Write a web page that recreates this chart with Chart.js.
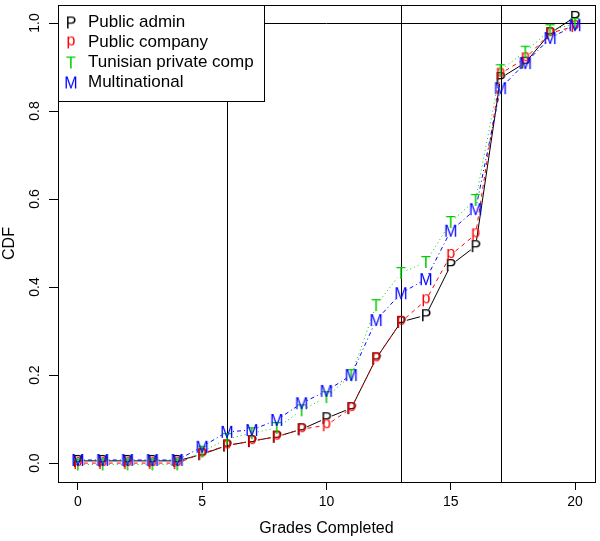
<!DOCTYPE html>
<html>
<head>
<meta charset="utf-8">
<script src="https://cdn.jsdelivr.net/npm/chart.js@4.4.1/dist/chart.umd.min.js"></script>
<style>
  html, body { margin: 0; padding: 0; background: #fff; }
  #cdf { display: block; }
</style>
</head>
<body>
<canvas id="cdf" width="600" height="541"></canvas>
<script>
const grades = [0, 1, 2, 3, 4, 5, 6, 7, 8, 9, 10, 11, 12, 13, 14, 15, 16, 17, 18, 19, 20];

const publicAdmin   = [0.005, 0.005, 0.005, 0.005, 0.005, 0.020, 0.040, 0.050, 0.060, 0.077, 0.102, 0.125, 0.238, 0.321, 0.336, 0.450, 0.493, 0.875, 0.910, 0.977, 1.014];
const publicCompany = [0.000, 0.000, 0.000, 0.000, 0.000, 0.022, 0.040, 0.050, 0.060, 0.077, 0.086, 0.125, 0.238, 0.321, 0.370, 0.473, 0.520, 0.885, 0.920, 0.977, 0.993];
const tunisianPriv  = [-0.003, -0.003, -0.003, -0.003, -0.003, 0.026, 0.055, 0.068, 0.080, 0.120, 0.150, 0.200, 0.359, 0.432, 0.457, 0.548, 0.598, 0.893, 0.935, 0.984, 0.998];
const multinational = [0.007, 0.007, 0.007, 0.007, 0.007, 0.037, 0.071, 0.075, 0.098, 0.136, 0.164, 0.200, 0.325, 0.386, 0.418, 0.528, 0.577, 0.852, 0.909, 0.966, 0.995];

const seriesNames = ['Public admin', 'Public company', 'Tunisian private comp', 'Multinational'];
const seriesChars = ['P', 'p', 'T', 'M'];
const seriesColors = ['#000000', '#ff0000', '#00cd00', '#0000ff'];

const xTicks = [0, 5, 10, 15, 20];
const yTicks = [0, 0.2, 0.4, 0.6, 0.8, 1.0];
const vLines = [6, 13, 17];
const hLines = [1.0];

const FONT = '"Liberation Sans", Arial, Helvetica, sans-serif';

// letter used as a plotting symbol, glyph box centred on the point
function letterMarker(ch, color) {
    const c = document.createElement('canvas');
    c.width = 16;
    c.height = 20;
    const g = c.getContext('2d');
    g.font = '16px ' + FONT;
    g.fillStyle = color;
    g.textAlign = 'center';
    g.textBaseline = 'alphabetic';
    const m = g.measureText(ch);
    g.fillText(ch, 8, 10 + (m.actualBoundingBoxAscent - m.actualBoundingBoxDescent) / 2);
    return c;
}

const markers = seriesChars.map((ch, i) => letterMarker(ch, seriesColors[i]));
const dashes = [[], [4, 4], [1, 3], [1, 3, 4, 3]];

function toPoints(vals) {
    return grades.map((g, i) => ({ x: g, y: vals[i] }));
}

const allValues = [publicAdmin, publicCompany, tunisianPriv, multinational];

// lines drawn R "type=b" style: segments stop short of each symbol
const gappedLines = {
    id: 'gappedLines',
    beforeDatasetsDraw(chart) {
        const ctx = chart.ctx;
        const gap = 6;
        chart.data.datasets.forEach((ds, i) => {
            const pts = chart.getDatasetMeta(i).data;
            ctx.save();
            ctx.strokeStyle = ds.borderColor;
            ctx.lineWidth = 1;
            ctx.setLineDash(dashes[i]);
            for (let k = 0; k < pts.length - 1; k++) {
                const a = pts[k], b = pts[k + 1];
                const dx = b.x - a.x, dy = b.y - a.y;
                const len = Math.hypot(dx, dy);
                if (len <= 2 * gap) continue;
                const ux = dx / len, uy = dy / len;
                ctx.beginPath();
                ctx.moveTo(a.x + ux * gap, a.y + uy * gap);
                ctx.lineTo(b.x - ux * gap, b.y - uy * gap);
                ctx.stroke();
            }
            ctx.restore();
        });
    }
};

const frameAndRefs = {
    id: 'frameAndRefs',
    beforeDatasetsDraw(chart) {
        const { ctx, chartArea: a, scales: { x, y } } = chart;
        ctx.save();
        ctx.strokeStyle = '#000';
        ctx.lineWidth = 1;
        vLines.forEach(v => {
            const px = Math.round(x.getPixelForValue(v)) + 0.5;
            ctx.beginPath();
            ctx.moveTo(px, a.top);
            ctx.lineTo(px, a.bottom);
            ctx.stroke();
        });
        hLines.forEach(v => {
            const py = Math.round(y.getPixelForValue(v)) + 0.5;
            ctx.beginPath();
            ctx.moveTo(a.left, py);
            ctx.lineTo(a.right, py);
            ctx.stroke();
        });
        ctx.restore();
    },
    afterDraw(chart) {
        const { ctx, chartArea: a, scales: { y } } = chart;
        ctx.save();
        // y tick labels, rotated like R's default
        ctx.fillStyle = '#000';
        ctx.font = '14px ' + FONT;
        ctx.textAlign = 'center';
        ctx.textBaseline = 'middle';
        y.ticks.forEach(t => {
            const py = y.getPixelForValue(t.value);
            ctx.save();
            ctx.translate(35, py);
            ctx.rotate(-Math.PI / 2);
            ctx.fillText(t.value.toFixed(1), 0, 0);
            ctx.restore();
        });

        // legend box in the top-left corner
        const lx = a.left, ly = a.top, lw = 206, lh = 96;
        ctx.fillStyle = '#fff';
        ctx.fillRect(lx, ly, lw, lh);
        ctx.strokeStyle = '#000';
        ctx.strokeRect(lx + 0.5, ly + 0.5, lw, lh);
        ctx.font = '17px ' + FONT;
        ctx.textAlign = 'left';
        ctx.fillStyle = '#000';
        chart.data.datasets.forEach((ds, i) => {
            const ry = ly + 17.5 + i * 20;
            const m = markers[i];
            ctx.drawImage(m, lx + 13 - m.width / 2, ry - m.height / 2);
            ctx.fillText(ds.label, lx + 30, ry);
        });

        // plot frame
        ctx.strokeRect(Math.round(a.left) + 0.5, Math.round(a.top) + 0.5,
            Math.round(a.right - a.left), Math.round(a.bottom - a.top));
        ctx.restore();
    }
};

new Chart(document.getElementById('cdf'), {
    type: 'line',
    data: {
        datasets: allValues.map((vals, i) => ({
            label: seriesNames[i],
            data: toPoints(vals),
            borderColor: seriesColors[i],
            backgroundColor: seriesColors[i],
            showLine: false,
            pointStyle: markers[i],
            order: 3 - i
        }))
    },
    options: {
        responsive: false,
        animation: false,
        devicePixelRatio: 1,
        layout: { padding: { top: 5, right: 3, left: 0, bottom: 0 } },
        plugins: {
            legend: { display: false },
            tooltip: { enabled: false }
        },
        scales: {
            x: {
                type: 'linear',
                min: -0.8,
                max: 20.8,
                afterBuildTicks: s => { s.ticks = xTicks.map(v => ({ value: v })); },
                afterFit: s => { s.height = 59; },
                border: { display: false },
                grid: { drawOnChartArea: false, drawTicks: true, tickLength: 8, color: '#000' },
                ticks: {
                    color: '#000',
                    font: { family: FONT, size: 14 },
                    padding: 4,
                    maxRotation: 0,
                    autoSkip: false,
                    callback: v => String(v)
                },
                title: {
                    display: true,
                    text: 'Grades Completed',
                    color: '#000',
                    font: { family: FONT, size: 16 },
                    padding: { top: 0, bottom: 3 }
                }
            },
            y: {
                type: 'linear',
                min: -0.043,
                max: 1.041,
                afterBuildTicks: s => { s.ticks = yTicks.map(v => ({ value: v })); },
                afterFit: s => { s.width = 58; },
                border: { display: false },
                grid: { drawOnChartArea: false, drawTicks: true, tickLength: 9, color: '#000' },
                ticks: { display: false },
                title: {
                    display: true,
                    text: 'CDF',
                    color: '#000',
                    font: { family: FONT, size: 16 },
                    padding: { top: 0, bottom: 0 }
                }
            }
        }
    },
    plugins: [frameAndRefs, gappedLines]
});
</script>
</body>
</html>
